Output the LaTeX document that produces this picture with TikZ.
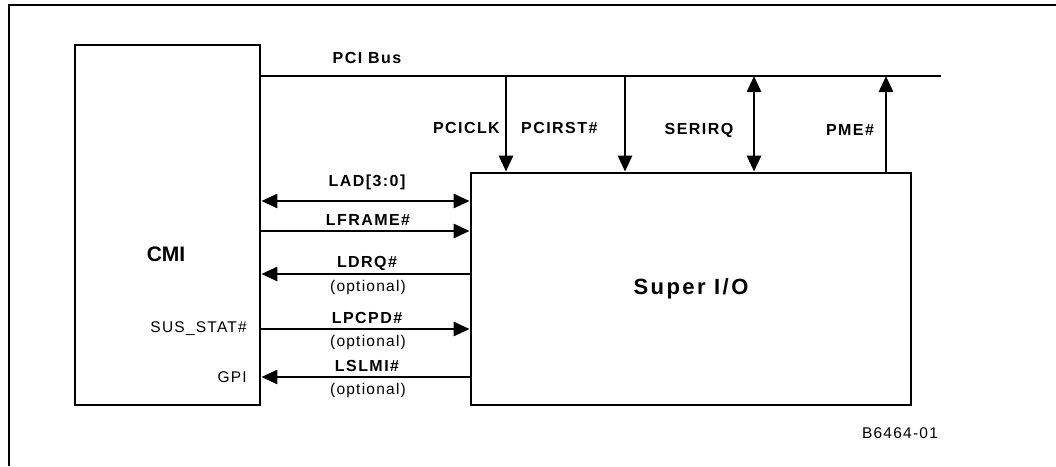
\documentclass[tikz,border=0pt]{standalone}
\usepackage{fontspec}
\setmainfont{Liberation Sans}
\usetikzlibrary{arrows.meta,positioning}

\tikzset{
  blockbox/.style={draw,line width=2.8pt,inner sep=0pt},
  wire/.style={line width=2.8pt},
  tipto/.style={wire,-{Triangle[length=16pt,width=14pt]}},
  tipboth/.style={wire,{Triangle[length=16pt,width=14pt]}-{Triangle[length=16pt,width=14pt]}},
  siglabel/.style={inner sep=1pt,font=\fontsize{16}{18}\selectfont\bfseries\addfontfeatures{LetterSpace=9}},
  notelabel/.style={inner sep=1pt,font=\fontsize{15.5}{17}\selectfont\addfontfeatures{LetterSpace=8}},
  blocklabel/.style={inner sep=1pt,font=\fontsize{22}{25}\selectfont\bfseries\addfontfeatures{LetterSpace=11}}
}

\begin{document}
\begin{tikzpicture}[x=1pt,y=-1pt]
\useasboundingbox (0,0) rectangle (1056,466);
% frame
\draw[line width=2.2pt] (9,466) -- (9,5) -- (1056,5);

% blocks
\node[blockbox,minimum width=185pt,minimum height=360pt] (cmi) at (167.5,225) {};
\node[blocklabel,font=\fontsize{21}{24}\selectfont\bfseries] (cmilabel) at (166,254) {CMI};
\node[blockbox,blocklabel,minimum width=440pt,minimum height=232pt] (sio) at (691,289) {Super I/O};

% PCI bus
\coordinate (busR) at (941,76);
\draw[wire] (cmi.east |- busR) -- (busR);
\node[siglabel] (buslabel) at (367,58) {PCI Bus};

\coordinate (clk) at (506,76);
\coordinate (rst) at (625,76);
\coordinate (irq) at (754,76);
\coordinate (pme) at (886,76);
\draw[tipto] (clk) -- (clk |- sio.north);
\draw[tipto] (rst) -- (rst |- sio.north);
\draw[tipboth] (irq) -- (irq |- sio.north);
\draw[tipto] (pme |- sio.north) -- (pme);
\node[siglabel,anchor=east] (clklabel) at (501,128) {PCICLK};
\node[siglabel,anchor=west] (rstlabel) at (520,128) {PCIRST\#};
\node[siglabel] (irqlabel) at (699,130) {SERIRQ};
\node[siglabel] (pmelabel) at (850,130) {PME\#};

% LPC signals
\draw[tipboth] (cmi.east |- 0,201) -- (sio.west |- 0,201);
\draw[tipto] (cmi.east |- 0,231) -- (sio.west |- 0,231);
\draw[tipto] (sio.west |- 0,274) -- (cmi.east |- 0,274);
\draw[tipto] (cmi.east |- 0,329) -- (sio.west |- 0,329);
\draw[tipto] (sio.west |- 0,377) -- (cmi.east |- 0,377);

\node[siglabel] (ladlabel) at (367,182) {LAD[3:0]};
\node[siglabel] (framelabel) at (368,220) {LFRAME\#};
\node[siglabel] (drqlabel) at (367,263) {LDRQ\#};
\node[notelabel] (drqnote) at (368,287) {(optional)};
\node[siglabel] (pcpdlabel) at (367,318) {LPCPD\#};
\node[notelabel] (pcpdnote) at (368,342) {(optional)};
\node[siglabel] (slmilabel) at (367,366) {LSLMI\#};
\node[notelabel] (slminote) at (368,390) {(optional)};

\node[notelabel,anchor=east] (suslabel) at (248,329) {SUS\_STAT\#};
\node[notelabel,anchor=east] (gpilabel) at (248,377) {GPI};

\node[notelabel] (figid) at (900,433) {B6464-01};
\end{tikzpicture}
\end{document}
